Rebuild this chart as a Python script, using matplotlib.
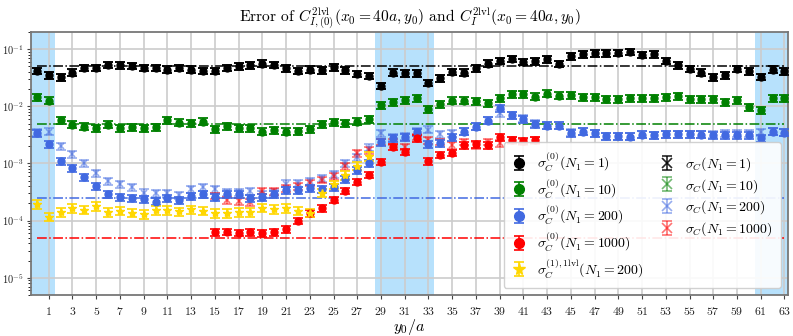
import numpy as np
import matplotlib.pyplot as plt

plt.rcParams['font.family'] = ['cmr10', 'DejaVu Serif']
plt.rcParams['mathtext.fontset'] = 'cm'
plt.rcParams['axes.formatter.use_mathtext'] = True

# y0/a positions
y0 = np.arange(0, 64)

# sigma_C^(0), circles
sig0_n1 = [0.042, 0.035, 0.032, 0.039, 0.047, 0.047, 0.053, 0.052, 0.051, 0.047,
           0.047, 0.044, 0.047, 0.044, 0.042, 0.042, 0.047, 0.050, 0.052, 0.056,
           0.053, 0.046, 0.042, 0.044, 0.043, 0.048, 0.043, 0.037, 0.034, 0.023,
           0.039, 0.038, 0.038, 0.026, 0.031, 0.040, 0.039, 0.046, 0.056, 0.062,
           0.068, 0.060, 0.061, 0.067, 0.055, 0.075, 0.082, 0.084, 0.085, 0.086,
           0.089, 0.079, 0.082, 0.063, 0.052, 0.045, 0.039, 0.032, 0.035, 0.045,
           0.041, 0.033, 0.044, 0.041]
sig0_n10 = [0.0145, 0.0126, 0.0058, 0.0048, 0.0044, 0.0042, 0.0048, 0.0041, 0.0043, 0.0041,
            0.0043, 0.0057, 0.0052, 0.0051, 0.0054, 0.0040, 0.0045, 0.0042, 0.0042, 0.0036,
            0.0038, 0.0036, 0.0037, 0.0040, 0.0049, 0.0053, 0.0051, 0.0054, 0.0059, 0.0104,
            0.0120, 0.0127, 0.0141, 0.0089, 0.0108, 0.0126, 0.0126, 0.0123, 0.0115, 0.0141,
            0.0162, 0.0162, 0.0148, 0.0166, 0.0153, 0.0155, 0.0143, 0.0145, 0.0134, 0.0133,
            0.0137, 0.0140, 0.0141, 0.0145, 0.0150, 0.0134, 0.0134, 0.0133, 0.0117, 0.0130,
            0.0098, 0.0086, 0.0140, 0.0140]
sig0_n200 = [3.44e-3, 2.2e-3, 1.11e-3, 8.2e-4, 5.7e-4, 4.0e-4, 2.9e-4, 2.6e-4, 2.5e-4, 2.4e-4,
             2.15e-4, 2.45e-4, 2.3e-4, 2.7e-4, 2.9e-4, 2.6e-4, 2.9e-4, 2.9e-4, 2.5e-4, 2.55e-4,
             2.9e-4, 3.4e-4, 3.4e-4, 3.7e-4, 3.6e-4, 3.9e-4, 5.3e-4, 7.7e-4, 1.0e-3, 2.35e-3,
             2.8e-3, 2.9e-3, 3.5e-3, 2.2e-3, 2.3e-3, 2.9e-3, 3.6e-3, 4.4e-3, 5.6e-3, 9.2e-3,
             7.0e-3, 6.0e-3, 4.9e-3, 4.6e-3, 4.6e-3, 3.44e-3, 3.6e-3, 3.35e-3, 3.0e-3, 3.0e-3,
             2.95e-3, 3.2e-3, 3.15e-3, 3.25e-3, 3.25e-3, 3.25e-3, 3.2e-3, 3.1e-3, 3.1e-3, 3.1e-3,
             3.1e-3, 2.75e-3, 3.6e-3, 3.45e-3]
y0_n1000 = np.arange(15, 43)
sig0_n1000 = [6.2e-5, 6.4e-5, 6.1e-5, 6.2e-5, 6.0e-5, 6.2e-5, 7.1e-5, 1.0e-4, 1.34e-4, 1.64e-4,
              2.3e-4, 3.3e-4, 4.8e-4, 6.3e-4, 1.07e-3, 1.95e-3, 1.6e-3, 2.75e-3, 1.1e-3, 1.43e-3,
              1.53e-3, 2.1e-3, 2.15e-3, 2.1e-3, 2.85e-3, 2.6e-3, 2.5e-3, 2.6e-3]

# sigma_C^(1),1lvl (N1 = 200), stars
y0_1lvl = np.arange(0, 29)
sig1_1lvl = [1.95e-4, 1.17e-4, 1.4e-4, 1.66e-4, 1.55e-4, 1.8e-4, 1.4e-4, 1.5e-4, 1.38e-4, 1.29e-4,
             1.52e-4, 1.52e-4, 1.45e-4, 1.57e-4, 1.5e-4, 1.35e-4, 1.35e-4, 1.4e-4, 1.4e-4, 1.68e-4,
             1.6e-4, 1.64e-4, 1.5e-4, 1.38e-4, 3.1e-4, 4.3e-4, 6.3e-4, 9.1e-4, 1.35e-3]

# sigma_C, crosses
sigc_n1 = list(sig0_n1)
sigc_n10 = list(sig0_n10)
sigc_n200 = [3.5e-3, 3.6e-3, 2.0e-3, 1.45e-3, 1.0e-3, 6.7e-4, 4.9e-4, 4.3e-4, 3.8e-4, 3.1e-4,
             3.0e-4, 3.0e-4, 2.8e-4, 3.6e-4, 3.8e-4, 3.6e-4, 3.15e-4, 3.15e-4, 3.3e-4, 2.9e-4,
             3.1e-4, 4.45e-4, 4.5e-4, 4.9e-4, 5.5e-4, 6.6e-4, 1.0e-3, 1.3e-3, 1.9e-3, 3.4e-3,
             2.9e-3, 3.0e-3, 3.6e-3, 3.9e-3, 3.3e-3, 3.4e-3, 3.6e-3, 4.4e-3, 5.6e-3, 7.5e-3,
             7.0e-3, 6.2e-3, 5.1e-3, 4.7e-3, 4.6e-3, 3.5e-3, 3.6e-3, 3.35e-3, 3.0e-3, 3.0e-3,
             3.0e-3, 3.2e-3, 3.15e-3, 3.3e-3, 3.3e-3, 3.3e-3, 3.3e-3, 3.3e-3, 3.4e-3, 3.4e-3,
             3.4e-3, 3.5e-3, 3.6e-3, 3.45e-3]
sigc_n1000 = [2.7e-4, 2.25e-4, 2.2e-4, 2.1e-4, 3.3e-4, 3.25e-4, 3.7e-4, 4.0e-4, 4.6e-4, 5.2e-4,
              6.0e-4, 9.0e-4, 1.5e-3, 1.7e-3, 2.4e-3, 2.4e-3, 1.97e-3, 2.9e-3, 2.55e-3, 2.4e-3,
              2.1e-3, 2.4e-3, 2.1e-3, 2.4e-3, 2.25e-3, 2.55e-3, 2.4e-3, 2.55e-3]

# relative error bars
rel_err = {'black': 0.13, 'green': 0.14, 'royalblue': 0.14, 'red': 0.13, 'gold': 0.17}

# reference levels 0.05/N1
n1_values = [1, 10, 200, 1000]
n1_colors = ['black', 'green', 'royalblue', 'red']
ref_level = 0.05

# shaded y0 windows
shade_windows = [(-0.5, 1.5), (28.5, 33.5), (60.5, 63.5)]

fig, ax = plt.subplots(figsize=(7.93, 3.36), dpi=100)
fig.subplots_adjust(left=0.039, right=0.9937, bottom=0.122, top=0.905)

for a, b in shade_windows:
    ax.axvspan(a, b, color='lightskyblue', alpha=0.6, lw=0, zorder=0.5)

for n1, col in zip(n1_values, n1_colors):
    ax.plot([0, 63], [ref_level / n1] * 2, ls='-.', color=col, lw=1.1, zorder=1.5)

circle_sets = [(y0, sig0_n1, 'black', r'$\sigma_C^{(0)}(N_1=1)$'),
               (y0, sig0_n10, 'green', r'$\sigma_C^{(0)}(N_1=10)$'),
               (y0, sig0_n200, 'royalblue', r'$\sigma_C^{(0)}(N_1=200)$'),
               (y0_n1000, sig0_n1000, 'red', r'$\sigma_C^{(0)}(N_1=1000)$')]
cross_sets = [(y0, sigc_n1, 'black', r'$\sigma_C(N_1=1)$'),
              (y0, sigc_n10, 'green', r'$\sigma_C(N_1=10)$'),
              (y0, sigc_n200, 'royalblue', r'$\sigma_C(N_1=200)$'),
              (y0_n1000, sigc_n1000, 'red', r'$\sigma_C(N_1=1000)$')]

for xs, ys, col, lab in cross_sets:
    ys = np.array(ys)
    ax.errorbar(xs, ys, yerr=ys * rel_err[col], fmt='x', color=col,
                alpha=0.85 if col == 'black' else 0.55,
                ms=5, mew=1.2, capsize=3.5, elinewidth=1.2, capthick=1.2,
                label=lab, zorder=2)

for xs, ys, col, lab in circle_sets:
    ys = np.array(ys)
    ax.errorbar(xs, ys, yerr=ys * rel_err[col], fmt='o', color=col,
                ms=5, capsize=3.5, elinewidth=1.2, capthick=1.2,
                label=lab, zorder=3)

ys = np.array(sig1_1lvl)
ax.errorbar(y0_1lvl, ys, yerr=ys * rel_err['gold'], fmt='*', color='gold',
            ms=6, capsize=3.5, elinewidth=1.2, capthick=1.2,
            label=r'$\sigma_C^{(1),\mathrm{1lvl}}(N_1=200)$', zorder=3)

ax.set_yscale('log')
ax.set_ylim(5e-6, 0.2)
ax.set_xlim(-0.5, 63.3)
ax.set_xticks(np.arange(1, 64, 2))
ax.grid(True, which='major', color='#cccccc', lw=1.2)
ax.set_axisbelow(True)
ax.tick_params(colors='#444444', labelcolor='#222222', length=3)
ax.tick_params(axis='y', labelsize=7.5, pad=2)
ax.tick_params(axis='x', labelsize=8.5, pad=4)
for s in ax.spines.values():
    s.set_color('#777777')
    s.set_linewidth(1.3)

ax.set_xlabel(r'$y_0/a$', fontsize=11.5, labelpad=0)
ax.set_title(r'Error of $C_{I,(0)}^{\mathrm{2lvl}}(x_0=40a,y_0)$ and '
             r'$C_I^{\mathrm{2lvl}}(x_0=40a,y_0)$', fontsize=11.2, pad=6)

h, l = ax.get_legend_handles_labels()
order = [4, 5, 6, 7, 8, 0, 1, 2, 3]
ax.legend([h[i] for i in order], [l[i] for i in order], ncol=2, loc='lower right',
          fontsize=10, markerscale=1.4, framealpha=0.9, columnspacing=1.2,
          handlelength=1.0, handletextpad=0.8, labelspacing=0.28,
          borderaxespad=0.5, borderpad=0.6)

fig.savefig('out.png', dpi=100)
